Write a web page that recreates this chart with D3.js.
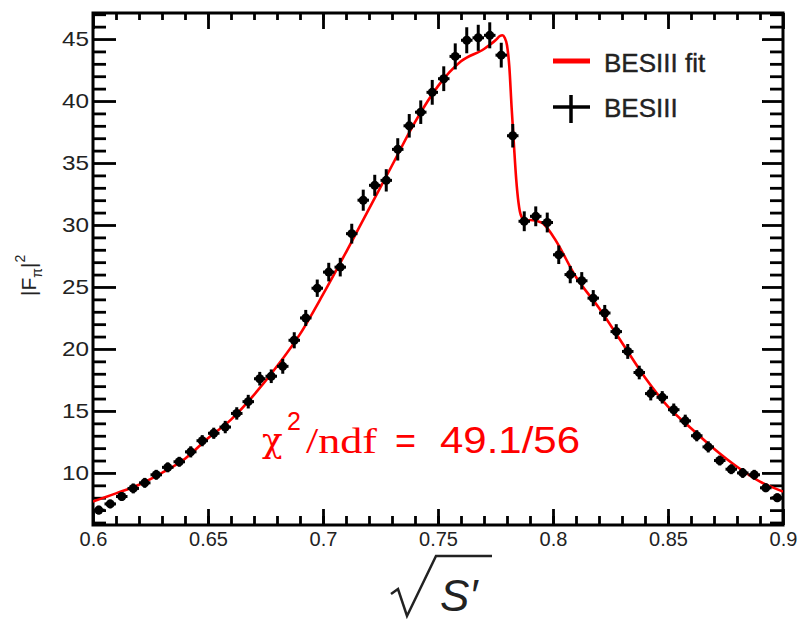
<!DOCTYPE html>
<html>
<head>
<meta charset="utf-8">
<script src="https://cdn.jsdelivr.net/npm/d3@7"></script>
<style>
  body { margin: 0; background: #fff; }
  svg { display: block; }
  .tick text { font-family: "Liberation Sans", Arial, sans-serif; fill: #222; }
</style>
</head>
<body>
<div class="canvas"></div>
<script>
// data points (bin centres, |F_pi|^2, stat. error)
const pointX = [0.6025, 0.6075, 0.6125, 0.6175, 0.6225, 0.6275, 0.6325, 0.6375, 0.6425, 0.6475,
    0.6525, 0.6575, 0.6625, 0.6675, 0.6725, 0.6775, 0.6825, 0.6875, 0.6925, 0.6975,
    0.7025, 0.7075, 0.7125, 0.7175, 0.7225, 0.7275, 0.7325, 0.7375, 0.7425, 0.7475,
    0.7525, 0.7575, 0.7625, 0.7675, 0.7725, 0.7775, 0.7825, 0.7875, 0.7925, 0.7975,
    0.8025, 0.8075, 0.8125, 0.8175, 0.8225, 0.8275, 0.8325, 0.8375, 0.8425, 0.8475,
    0.8525, 0.8575, 0.8625, 0.8675, 0.8725, 0.8775, 0.8825, 0.8875, 0.8925, 0.8975]
const pointY = [7.0, 7.5, 8.1, 8.75, 9.2, 9.85, 10.45, 10.9, 11.7, 12.6,
    13.2, 13.7, 14.8, 15.75, 17.6, 17.8, 18.6, 20.7, 22.5, 24.9,
    26.2, 26.6, 29.3, 32.0, 33.2, 33.6, 36.1, 38.0, 39.1, 40.7,
    41.8, 43.6, 44.9, 45.1, 45.3, 43.7, 37.2, 30.3, 30.7, 30.2,
    27.6, 26.0, 25.5, 24.1, 22.9, 21.4, 19.8, 18.1, 16.4, 16.1,
    15.1, 14.2, 13.0, 12.1, 11.0, 10.3, 10.0, 9.85, 8.8, 8.0]
const pointErr = [0.35, 0.35, 0.35, 0.4, 0.4, 0.4, 0.4, 0.4, 0.45, 0.45,
    0.45, 0.5, 0.5, 0.55, 0.55, 0.55, 0.6, 0.65, 0.65, 0.7,
    0.75, 0.75, 0.8, 0.85, 0.85, 0.9, 0.9, 0.95, 0.95, 1.0,
    1.0, 1.05, 1.05, 1.05, 1.05, 1.0, 0.95, 0.8, 0.8, 0.8,
    0.75, 0.7, 0.7, 0.65, 0.65, 0.6, 0.6, 0.55, 0.55, 0.5,
    0.5, 0.5, 0.45, 0.45, 0.4, 0.4, 0.4, 0.4, 0.35, 0.35]
const binHalf = 0.0025

// fit curve
const fitX = [0.600, 0.610, 0.620, 0.630, 0.640, 0.650, 0.660, 0.670, 0.680, 0.690,
    0.700, 0.710, 0.720, 0.730, 0.740, 0.750, 0.760, 0.770, 0.775, 0.777,
    0.778, 0.779, 0.780, 0.781, 0.782, 0.783, 0.784, 0.785, 0.786, 0.788,
    0.790, 0.795, 0.800, 0.810, 0.820, 0.830, 0.840, 0.850, 0.860, 0.870,
    0.880, 0.890, 0.900]
const fitY = [7.7, 8.35, 9.05, 10.0, 11.15, 12.8, 14.3, 16.3, 18.6, 21.2,
    24.4, 27.8, 31.3, 34.8, 38.3, 41.2, 43.2, 44.2, 44.9, 45.25,
    45.3, 45.1, 44.5, 42.8, 39.5, 36.5, 33.7, 31.8, 30.8, 30.3,
    30.4, 30.2, 29.1, 25.8, 23.3, 20.5, 17.7, 15.35, 13.6, 11.95,
    10.5, 9.3, 8.5]

// tick values
const xMajor = [0.6, 0.65, 0.7, 0.75, 0.8, 0.85, 0.9]
const xMinor = d3.range(0.61, 0.895, 0.01)
const yMajor = [10, 15, 20, 25, 30, 35, 40, 45]
const yMinor = d3.range(6, 48, 1).filter(v => v % 5 !== 0)

const legendLabels = ['BESIII fit', 'BESIII']

const width = 799
const height = 620
const plot = {left: 93, right: 783, top: 13, bottom: 525}

const svg = d3.select('.canvas')
    .append('svg')
    .attr('width', width)
    .attr('height', height)

svg.append('rect').attr('width', width).attr('height', height).attr('fill', '#fff')

const x = d3.scaleLinear().domain([0.6, 0.9]).range([plot.left, plot.right])
const y = d3.scaleLinear().domain([5.8, 47.1]).range([plot.bottom, plot.top])

// clip for data
svg.append('clipPath').attr('id', 'clip')
    .append('rect')
    .attr('x', plot.left).attr('y', plot.top)
    .attr('width', plot.right - plot.left).attr('height', plot.bottom - plot.top)

const fmt = d => String(+d.toFixed(2))

function drawAxis(axis, tx, ty, labels) {
    const g = svg.append('g')
        .attr('transform', `translate(${tx}, ${ty})`)
        .call(axis)
    g.select('.domain').remove()
    g.selectAll('line').attr('stroke', '#000').attr('stroke-width', 2.8)
    if (!labels) g.selectAll('text').remove()
    return g
}

// bottom axis
const xAxisG = drawAxis(d3.axisBottom(x).tickValues(xMajor).tickSize(-16).tickPadding(7).tickFormat(fmt), 0, plot.bottom, true)
xAxisG.selectAll('text').attr('font-size', 20)
drawAxis(d3.axisBottom(x).tickValues(xMinor).tickSize(-9), 0, plot.bottom, false)
// top axis
drawAxis(d3.axisTop(x).tickValues(xMajor).tickSize(-16), 0, plot.top, false)
drawAxis(d3.axisTop(x).tickValues(xMinor).tickSize(-7), 0, plot.top, false)
// left axis
const yAxisG = drawAxis(d3.axisLeft(y).tickValues(yMajor).tickSize(-23).tickPadding(4), plot.left, 0, true)
yAxisG.selectAll('text').attr('font-size', 21).attr('textLength', 27).attr('lengthAdjust', 'spacingAndGlyphs')
drawAxis(d3.axisLeft(y).tickValues(yMinor).tickSize(-13), plot.left, 0, false)
// right axis
drawAxis(d3.axisRight(y).tickValues(yMajor).tickSize(-21), plot.right, 0, false)
drawAxis(d3.axisRight(y).tickValues(yMinor).tickSize(-13), plot.right, 0, false)

// frame
svg.append('rect')
    .attr('x', plot.left).attr('y', plot.top)
    .attr('width', plot.right - plot.left).attr('height', plot.bottom - plot.top)
    .attr('fill', 'none').attr('stroke', '#000').attr('stroke-width', 3)

const dataG = svg.append('g').attr('clip-path', 'url(#clip)')

// fit curve
const fit = fitX.map((v, i) => [v, fitY[i]])
const line = d3.line()
    .x(d => x(d[0]))
    .y(d => y(d[1]))
    .curve(d3.curveMonotoneX)

dataG.append('path')
    .datum(fit)
    .attr('d', line)
    .attr('fill', 'none')
    .attr('stroke', '#ff0000')
    .attr('stroke-width', 2.6)

// data points with error bars
const pts = pointX.map((v, i) => ({x: v, y: pointY[i], e: pointErr[i]}))
const pg = dataG.selectAll('g.pt')
    .data(pts)
    .enter()
    .append('g')
    .attr('class', 'pt')

pg.append('line')
    .attr('x1', d => x(d.x - binHalf)).attr('x2', d => x(d.x + binHalf))
    .attr('y1', d => y(d.y)).attr('y2', d => y(d.y))
    .attr('stroke', '#000').attr('stroke-width', 3)
pg.append('line')
    .attr('x1', d => x(d.x)).attr('x2', d => x(d.x))
    .attr('y1', d => y(d.y - d.e)).attr('y2', d => y(d.y + d.e))
    .attr('stroke', '#000').attr('stroke-width', 3)
pg.append('circle')
    .attr('cx', d => x(d.x)).attr('cy', d => y(d.y))
    .attr('r', 4.5)
    .attr('fill', '#000')

// legend
const legend = svg.append('g')
legend.append('line')
    .attr('x1', 553).attr('x2', 590).attr('y1', 61).attr('y2', 61)
    .attr('stroke', '#ff0000').attr('stroke-width', 5)
legend.append('line')
    .attr('x1', 553).attr('x2', 590).attr('y1', 107).attr('y2', 107)
    .attr('stroke', '#000').attr('stroke-width', 3.5)
legend.append('line')
    .attr('x1', 571).attr('x2', 571).attr('y1', 95).attr('y2', 123)
    .attr('stroke', '#000').attr('stroke-width', 3.5)
legend.selectAll('text')
    .data(legendLabels)
    .enter()
    .append('text')
    .attr('x', 604)
    .attr('y', (d, i) => 72 + i * 45)
    .attr('font-family', '"Liberation Sans", Arial, sans-serif')
    .attr('font-size', 26)
    .attr('fill', '#222')
    .attr('stroke', '#222').attr('stroke-width', 0.4)
    .text(d => d)

// chi2 label
const chi = svg.append('g').attr('fill', '#ff0000')
chi.append('text')
    .attr('x', 262).attr('y', 452)
    .attr('font-family', '"DejaVu Serif", serif')
    .attr('font-size', 34)
    .text('χ')
chi.append('text')
    .attr('x', 287).attr('y', 430)
    .attr('font-family', '"Liberation Sans", Arial, sans-serif')
    .attr('font-size', 25)
    .text('2')
chi.append('text')
    .attr('x', 306).attr('y', 453)
    .attr('font-family', '"Liberation Serif", serif')
    .attr('font-size', 36)
    .attr('textLength', 71).attr('lengthAdjust', 'spacingAndGlyphs')
    .text('/ndf')
chi.append('text')
    .attr('x', 395).attr('y', 453)
    .attr('font-family', '"Liberation Sans", Arial, sans-serif')
    .attr('font-size', 36)
    .text('=')
chi.append('text')
    .attr('x', 440).attr('y', 453)
    .attr('font-family', '"Liberation Sans", Arial, sans-serif')
    .attr('font-size', 36)
    .attr('textLength', 140).attr('lengthAdjust', 'spacingAndGlyphs')
    .text('49.1/56')

// y axis title |F_pi|^2
const yTitle = svg.append('text')
    .attr('transform', 'translate(36, 296) rotate(-90)')
    .attr('font-family', '"Liberation Sans", Arial, sans-serif')
    .attr('font-size', 21)
    .attr('fill', '#222')
yTitle.append('tspan').text('|F')
yTitle.append('tspan').attr('font-size', 14).attr('dy', 6).text('π')
yTitle.append('tspan').attr('dy', -6).text('|')
yTitle.append('tspan').attr('font-size', 14).attr('dy', -11).text('2')

// x axis title sqrt(s')
svg.append('path')
    .attr('d', 'M391,594 L398,589 L407,616 L436,556 L492,556')
    .attr('fill', 'none')
    .attr('stroke', '#222')
    .attr('stroke-width', 2.5)
svg.append('text')
    .attr('x', 440).attr('y', 611)
    .attr('font-family', '"Liberation Sans", Arial, sans-serif')
    .attr('font-style', 'italic')
    .attr('font-size', 44)
    .attr('fill', '#222')
    .text('S′')
</script>
</body>
</html>
